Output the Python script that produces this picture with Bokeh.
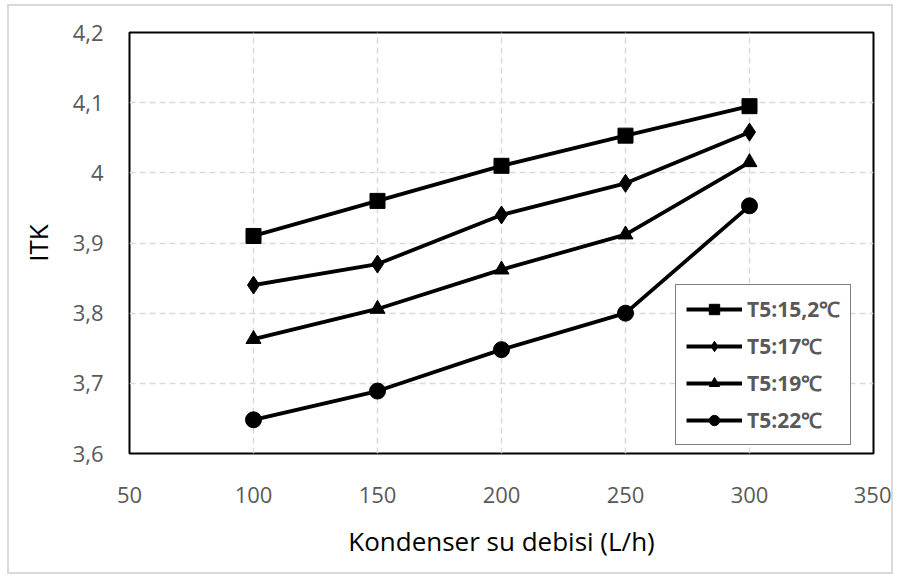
from bokeh.plotting import figure
from bokeh.models import FixedTicker, Legend, LegendItem
from bokeh.embed import file_html
from bokeh.resources import INLINE

flow = [100, 150, 200, 250, 300]
s_152 = [3.91, 3.96, 4.01, 4.053, 4.095]
s_17 = [3.84, 3.87, 3.94, 3.985, 4.058]
s_19 = [3.763, 3.806, 3.862, 3.912, 4.015]
s_22 = [3.648, 3.689, 3.748, 3.80, 3.953]
labels = ["T5:15,2\u2103", "T5:17\u2103", "T5:19\u2103", "T5:22\u2103"]
x_ticks = [50, 100, 150, 200, 250, 300, 350]
y_ticks = [3.6, 3.7, 3.8, 3.9, 4.0, 4.1, 4.2]
y_tick_labels = ["3,6", "3,7", "3,8", "3,9", "4", "4,1", "4,2"]

FONT = "Open Sans"

p = figure(width=886, height=570, output_backend="svg", toolbar_location=None,
           x_range=(50, 350), y_range=(3.6, 4.2),
           min_border_left=120, min_border_top=26, min_border_right=22, min_border_bottom=123)
p.styles = {"border": "2px solid #d9d9d9", "margin": "4px 0 0 7px"}
p.outline_line_color = "black"
p.outline_line_width = 2
p.background_fill_color = "white"
p.border_fill_color = "white"

for ax in (p.xaxis[0], p.yaxis[0]):
    ax.axis_line_color = None
    ax.major_tick_line_color = None
    ax.minor_tick_line_color = None
    ax.major_tick_out = 0
    ax.major_tick_in = 0
    ax.minor_tick_out = 0
    ax.major_label_text_font = FONT
    ax.major_label_text_font_size = "22px"
    ax.major_label_text_color = "#595959"
    ax.axis_label_text_font = FONT
    ax.axis_label_text_font_size = "26px"
    ax.axis_label_text_font_style = "normal"
    ax.axis_label_text_color = "black"

p.xaxis[0].ticker = FixedTicker(ticks=x_ticks)
p.yaxis[0].ticker = FixedTicker(ticks=y_ticks)
p.yaxis[0].major_label_overrides = {t: l for t, l in zip(y_ticks, y_tick_labels)}
p.xaxis[0].axis_label = "Kondenser su debisi (L/h)"
p.yaxis[0].axis_label = "ITK"
p.xaxis[0].major_label_standoff = 33
p.xaxis[0].axis_label_standoff = 17
p.yaxis[0].major_label_standoff = 26
p.yaxis[0].axis_label_standoff = 14

for g in (p.xgrid[0], p.ygrid[0]):
    g.grid_line_color = "#d9d9d9"
    g.grid_line_width = 1.5
    g.grid_line_dash = "6 4"

series = [s_152, s_17, s_19, s_22]
markers = ["square", "diamond", "triangle", "circle"]
sizes = [15, 18, 15, 16]
items = []
for vals, mk, sz, lab in zip(series, markers, sizes, labels):
    r1 = p.line(flow, vals, line_color="black", line_width=3.8)
    r2 = p.scatter(flow, vals, marker=mk, size=sz, fill_color="black", line_color="black")
    items.append(LegendItem(label=lab, renderers=[r1, r2]))

legend = Legend(items=items, location=(546, 8))
legend.border_line_color = "black"
legend.border_line_width = 1.5
legend.background_fill_color = "white"
legend.background_fill_alpha = 1
legend.label_text_font = FONT
legend.label_text_font_size = "21px"
legend.label_text_font_style = "bold"
legend.label_text_color = "#595959"
legend.glyph_width = 56
legend.glyph_height = 26
legend.label_height = 26
legend.spacing = 9
legend.padding = 10
legend.label_standoff = 5
legend.margin = 0
p.add_layout(legend, "center")

open("out.html", "w").write(file_html(p, INLINE))
